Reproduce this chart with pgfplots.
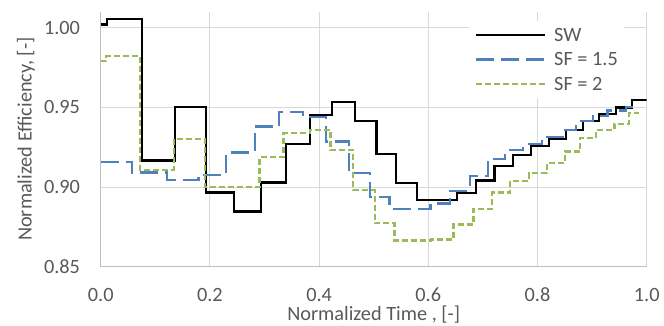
\documentclass[border=0pt]{standalone}
\usepackage{fontspec}
\setmainfont{Carlito}
\usepackage{pgfplots}
\pgfplotsset{compat=1.18}
\definecolor{txt}{HTML}{595959}
\definecolor{grd}{HTML}{D9D9D9}
\definecolor{axl}{HTML}{BFBFBF}
\definecolor{sfblue}{HTML}{4F81BD}
\definecolor{sfgreen}{HTML}{9BBB59}
\newcommand\chartfont{\fontsize{20.3bp}{24bp}\selectfont}
\begin{document}
\begin{tikzpicture}
\begin{axis}[
  at={(100.7bp,59.3bp)}, anchor=south west,
  scale only axis, width=546bp, height=255bp,
  xmin=0, xmax=1, ymin=0.85, ymax=1.01,
  xtick={0,0.2,0.4,0.6,0.8,1.0},
  ytick={0.85,0.90,0.95,1.00},
  axis lines*=left,
  axis line style={draw=axl, line width=1bp},
  major tick length=0pt,
  grid=major,
  major grid style={draw=grd, line width=1bp},
  /pgf/number format/assume math mode=true,
  tick label style={font=\chartfont, text=txt, inner sep=0pt},
  xticklabel style={anchor=base, yshift=-34.3bp, /pgf/number format/fixed, /pgf/number format/fixed zerofill, /pgf/number format/precision=1},
  yticklabel style={anchor=east, xshift=-20.5bp, /pgf/number format/fixed, /pgf/number format/fixed zerofill, /pgf/number format/precision=2},
  xlabel={Normalized Time , [-]},
  ylabel={Normalized Efficiency, [-]},
  label style={font=\chartfont, text=txt, inner sep=0pt},
  xlabel style={at={(axis description cs:0.5,0)}, anchor=base, yshift=-54.2bp},
  ylabel style={at={(axis description cs:-0.1264,0.5)}, anchor=base},
  legend style={at={(axis description cs:0.6746,0.965)}, anchor=north west,
    draw=none, fill=white, inner xsep=6bp, inner ysep=2bp, font=\chartfont, text=txt,
    row sep=0bp, column sep=7.7bp,
    nodes={inner xsep=0bp, inner ysep=3bp, text height=15.5bp, text depth=3bp}},
  legend cell align=left,
  legend image code/.code={\draw[#1] (0bp,0bp) -- (69bp,0bp);},
  const plot,
]
\addplot[black, line width=2.3bp] coordinates {
(0,1.002) (0.011,1.0056) (0.075,0.9166) (0.136,0.9504) (0.193,0.8966) (0.244,0.8846)
(0.293,0.9029) (0.339,0.927) (0.383,0.9452) (0.424,0.9535) (0.466,0.9416) (0.505,0.9208)
(0.541,0.9025) (0.579,0.892) (0.652,0.8962) (0.687,0.904) (0.721,0.9133) (0.755,0.920)
(0.788,0.9258) (0.821,0.930) (0.852,0.9358) (0.883,0.9416) (0.913,0.946) (0.944,0.9498)
(0.973,0.9546) (1.0,0.9546)};
\addlegendentry{SW}
\addplot[sfblue, line width=2.25bp, dash pattern=on 18bp off 7bp] coordinates {
(0,0.9156) (0.057,0.9091) (0.121,0.9046) (0.179,0.9077) (0.230,0.9216) (0.282,0.9379)
(0.327,0.9473) (0.371,0.9437) (0.413,0.9285) (0.455,0.9088) (0.493,0.8935) (0.529,0.8862)
(0.604,0.8896) (0.640,0.8977) (0.676,0.907) (0.709,0.9175) (0.741,0.9233) (0.774,0.927)
(0.808,0.9312) (0.846,0.9358) (0.871,0.9415) (0.901,0.9445) (0.928,0.948) (0.962,0.9504)
(0.975,0.9504)};
\addlegendentry{SF = 1.5}
\addplot[sfgreen, line width=2.25bp, dash pattern=on 6bp off 3bp] coordinates {
(0,0.979) (0.01,0.982) (0.072,0.9108) (0.134,0.930) (0.191,0.900) (0.291,0.9188)
(0.335,0.934) (0.383,0.936) (0.421,0.9233) (0.462,0.8979) (0.502,0.8775) (0.538,0.8664)
(0.605,0.867) (0.646,0.8764) (0.683,0.886) (0.717,0.8966) (0.75,0.904) (0.784,0.9088)
(0.817,0.915) (0.851,0.9223) (0.878,0.9306) (0.907,0.9358) (0.941,0.9396) (0.968,0.9466)
(0.986,0.9466)};
\addlegendentry{SF = 2}
\end{axis}
\pgfresetboundingbox
\path[use as bounding box] (0,0) rectangle (664bp,326bp);
\end{tikzpicture}
\end{document}
